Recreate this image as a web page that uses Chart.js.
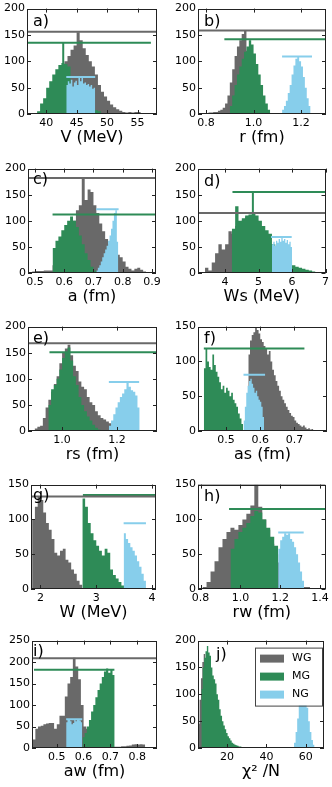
<!DOCTYPE html>
<html>
<head>
<meta charset="utf-8">
<script src="https://cdn.jsdelivr.net/npm/chart.js@4"></script>
<style>
  body { margin: 0; background: #fff; }
  #wrap { position: relative; width: 332px; height: 787px; overflow: hidden; }
  canvas { position: absolute; }
</style>
</head>
<body>
<div id="wrap"></div>
<script>
const FONT = '"DejaVu Sans", sans-serif';
const COLORS = { WG: '#696969', MG: '#2e8b57', NG: '#87ceeb' };
const KEYS = ['WG', 'MG', 'NG'];

// y tick sets
const Y200 = [0, 50, 100, 150, 200];
const Y150 = [0, 50, 100, 150];
const Y250 = [0, 50, 100, 150, 200, 250];

// histogram counts; bins = [first edge, bin width]
// a) V (MeV)
const aWG = [2,5,10,20,35,50,65,80,92,100,110,122,130,155,140,125,112,100,90,75,55,42,33,25,18,13,9,6,4,3,4,3,4,4,2];
const aWGbin = [38.5, 0.5];
const aMG = [5,20,30,50,62,75,85,93,97,95,90,45,40,35,30,25,20,15,10,7,5];
const aMGbin = [38.5, 0.5];
const aNG = [55,62,58,65,52,60,63,55,70,62,70,58,60,55,57,52,55,48,50];
const aNGbin = [43.3, 0.25];
const aLines = [['WG', null, 156, null, 156], ['MG', null, 135, 57.2, 135], ['MG', 42.8, 135, 42.8, 96], ['NG', 43.3, 70, 48.05, 70]];

// b) r (fm)
const bWG = [2,3,3,4,4,6,8,12,20,35,60,85,110,128,140,152,158,120,90,60,35,15,5];
const bWGbin = [0.80, 0.01];
const bMG = [15,35,55,75,90,105,118,128,140,132,115,95,75,55,35,20,8];
const bMGbin = [0.90, 0.01];
const bNG = [8,15,25,40,55,75,92,105,110,100,90,70,50,30,15];
const bNGbin = [1.12, 0.008];
const bLines = [['WG', null, 158.5, null, 158.5], ['MG', 0.877, 142, null, 142], ['NG', 1.12, 109, 1.246, 109]];

// c) a (fm)
const cWG = [3,4,4,4,5,5,5,15,25,35,45,55,65,80,100,120,130,180,140,160,155,130,115,95,80,65,55,45,40,35,30,22,12,8,5,8,10,6,3];
const cWGbin = [0.49, 0.01];
const cMG = [48,62,70,82,92,100,108,100,88,72,55,38,25,12,5];
const cMGbin = [0.56, 0.01];
const cNG = [5,10,15,22,30,38,45,52,62,72,85,100,115,120,60];
const cNGbin = [0.71, 0.005];
const cLines = [['WG', null, 182, null, 182], ['MG', 0.56, 112, null, 112], ['NG', 0.709, 122, 0.786, 122]];

// d) Ws (MeV)
const dWG = [10,5,20,38,55,45,55,80,75,90,98,102,108,110,114,100,85,70,55,40,30,20,12,8,5];
const dWGbin = [3.4, 0.1];
const dMG = [85,128,100,105,110,112,115,110,100,90,82,75,55,50,45,40,35,25,15,12,10,8,6,5,3];
const dMGbin = [4.2, 0.1];
const dNG = [55,60,52,62,58,65,60,68,62,65,58,63,55,60,50];
const dNGbin = [5.4, 0.04];
const dLines = [['WG', null, 115, null, 115], ['MG', 4.22, 155, null, 155], ['MG', 4.83, 155, 4.83, 115], ['NG', 5.37, 69, 5.99, 69]];

// e) rs (fm)
const eWG = [5,8,10,25,45,60,75,90,105,130,150,158,165,145,125,115,95,85,80,65,55,50,38,30,25,22,18,15,10];
const eWGbin = [0.90, 0.01];
const eMG = [50,80,88,100,118,140,150,160,135,105,88,65,50,38,28,20,12,6,3];
const eMGbin = [0.95, 0.01];
const eNG = [10,20,32,45,55,65,72,80,92,85,78,75,68,45];
const eNGbin = [1.17, 0.008];
const eLines = [['WG', null, 168, null, 168], ['MG', 0.954, 151, null, 151], ['NG', 1.17, 94, 1.28, 94]];

// f) as (fm)
const fWG = [110,130,138,142,148,145,140,132,128,122,118,110,115,100,88,80,72,65,58,50,45,40,35,30,26,22,20,15,12,10,8,6,8,5,3,4,2,3];
const fWGbin = [0.565, 0.005];
const fMG = [90,118,100,92,88,110,95,85,78,70,60,65,55,62,58,50,55,45,40,35,25,18,10];
const fMGbin = [0.435, 0.005];
const fNG = [15,35,55,65,72,75,68,62,55,58,50,45,42,35,20];
const fNGbin = [0.551, 0.004];
const fLines = [['MG', 0.435, 118.6, 0.729, 118.6], ['NG', 0.551, 80.7, 0.614, 80.7]];

// g) W (MeV)
const gWG = [100,118,133,128,110,95,85,72,52,48,55,58,42,38,28,22,12,6];
const gWGbin = [1.85, 0.05];
const gMG = [130,118,95,80,70,62,55,48,58,52,28,20,15,10,5];
const gMGbin = [2.75, 0.05];
const gNG = [80,72,66,60,55,48,40,32,22,12];
const gNGbin = [3.49, 0.04];
const gLines = [['WG', null, 133, null, 133], ['MG', 2.76, 135, null, 135], ['NG', 3.49, 94.4, 3.89, 94.4]];

// h) rw (fm)
const hWG = [3,10,25,40,60,72,82,88,85,92,100,108,120,150,118,100,85,65,50,38,28,18,12,8,5,3,3];
const hWGbin = [0.81, 0.02];
const hMG = [58,72,82,88,95,105,112,110,100,88,75,62];
const hMGbin = [0.95, 0.02];
const hNG = [58,70,75,80,78,80,72,68,60,50,38,25,12];
const hNGbin = [1.19, 0.01];
const hLines = [['WG', null, 149.5, null, 149.5], ['MG', 0.943, 115, null, 115], ['NG', 1.19, 81, 1.318, 81]];

// i) aw (fm)
const iWG = [20,45,50,52,55,57,58,58,45,55,75,75,120,150,165,210,190,160,100,50,45,35,25,20,15,12,10,8,6,5,3,3,3,4,4,5,6,8,9,8,9,8];
const iWGbin = [0.41, 0.01];
const iMG = [25,35,50,65,85,100,118,135,150,165,178,185,175,182,170];
const iMGbin = [0.596, 0.008];
const iNG = [60,66,65,62,55,58,66,62,65,66,64,60];
const iNGbin = [0.535, 0.005];
const iLines = [['WG', null, 209, null, 209], ['MG', 0.415, 182, 0.715, 182], ['NG', 0.535, 67, 0.595, 67]];

// j) chi^2/N
const jWG = [45,90,130,160,175,165,150,120,90,65,45,30,20,12,8,5,3];
const jWGbin = [5.4, 0.7];
const jMG = [110,150,168,180,190,178,172,150,135,128,120,100,90,72,60,50,42,35,28,22,18,14,10,8,6,5,4,3,3,2,2];
const jMGbin = [7.0, 0.7];
const jNG = [10,30,55,90,110,120,118,95,75,50,30,15,6];
const jNGbin = [54.0, 0.8];
const jLegend = ['WG', 'MG', 'NG'];

const PANELS = [
  { label: 'a)', title: 'V (MeV)', rect: [27, 8, 157, 114], x: [36.85, 58.2], xt: ['40','45','50','55'], y: Y200,
    series: [[aWG, aWGbin], [aMG, aMGbin], [aNG, aNGbin]], lines: aLines, dx: 6, dy: 13 },
  { label: 'b)', title: 'r (fm)', rect: [198, 8, 326, 114], x: [0.766, 1.305], xt: ['0.8','1.0','1.2'], y: Y200,
    series: [[bWG, bWGbin], [bMG, bMGbin], [bNG, bNGbin]], lines: bLines, dx: 6, dy: 13 },
  { label: 'c)', title: 'a (fm)', rect: [28, 168, 156, 273], x: [0.476, 0.914], xt: ['0.5','0.6','0.7','0.8','0.9'], y: Y200,
    series: [[cWG, cWGbin], [cMG, cMGbin], [cNG, cNGbin]], lines: cLines, dx: 5, dy: 11 },
  { label: 'd)', title: 'Ws (MeV)', rect: [198, 168, 327, 273], x: [3.19, 7.0], xt: ['4','5','6','7'], y: Y200,
    series: [[dWG, dWGbin], [dMG, dMGbin], [dNG, dNGbin]], lines: dLines, dx: 6, dy: 13 },
  { label: 'e)', title: 'rs (fm)', rect: [28, 326, 157, 431], x: [0.876, 1.345], xt: ['1.0','1.2'], y: Y200,
    series: [[eWG, eWGbin], [eMG, eMGbin], [eNG, eNGbin]], lines: eLines, dx: 5, dy: 12 },
  { label: 'f)', title: 'as (fm)', rect: [198, 326, 327, 431], x: [0.418, 0.795], xt: ['0.5','0.6','0.7'], y: Y150,
    series: [[fWG, fWGbin], [fMG, fMGbin], [fNG, fNGbin]], lines: fLines, dx: 6, dy: 12 },
  { label: 'g)', title: 'W (MeV)', rect: [31, 484, 156, 589], x: [1.83, 4.07], xt: ['2','3','4'], y: Y150,
    series: [[gWG, gWGbin], [gMG, gMGbin], [gNG, gNGbin]], lines: gLines, dx: 2, dy: 11 },
  { label: 'h)', title: 'rw (fm)', rect: [198, 484, 326, 589], x: [0.787, 1.428], xt: ['0.8','1.0','1.2','1.4'], y: Y150,
    series: [[hWG, hWGbin], [hMG, hMGbin], [hNG, hNGbin]], lines: hLines, dx: 6, dy: 12 },
  { label: 'i)', title: 'aw (fm)', rect: [32, 640, 157, 748], x: [0.4075, 0.874], xt: ['0.5','0.6','0.7','0.8'], y: Y250,
    series: [[iWG, iWGbin], [iMG, iMGbin], [iNG, iNGbin]], lines: iLines, dx: 1, dy: 11 },
  { label: 'j)', title: 'χ² /N', rect: [198, 640, 324, 748], x: [5.3, 69.2], xt: ['20','40','60'], y: Y200,
    series: [[jWG, jWGbin], [jMG, jMGbin], [jNG, jNGbin]], lines: [], dx: 18, dy: 14, legend: jLegend }
];

// outline of a histogram: two corners per bin, closed down to zero
function histPoints(counts, bin) {
  const [x0, w] = bin;
  const pts = [{ x: x0, y: 0 }];
  counts.forEach((c, i) => {
    pts.push({ x: x0 + i * w, y: c });
    pts.push({ x: x0 + (i + 1) * w, y: c });
  });
  pts.push({ x: x0 + counts.length * w, y: 0 });
  return pts;
}

// frame, inward ticks, panel letter and the legend box
const framePlugin = {
  id: 'frame',
  afterDatasetsDraw(chart, args, o) {
    const { ctx, chartArea: a, scales } = chart;
    ctx.save();
    ctx.strokeStyle = '#222';
    ctx.lineWidth = 1;
    const seg = (x1, y1, x2, y2) => { ctx.beginPath(); ctx.moveTo(x1, y1); ctx.lineTo(x2, y2); ctx.stroke(); };
    scales.x.ticks.forEach(t => {
      const px = Math.round(scales.x.getPixelForValue(t.value)) + 0.5;
      seg(px, a.bottom, px, a.bottom - 4);
      seg(px, a.top, px, a.top + 4);
    });
    scales.y.ticks.forEach(t => {
      const py = Math.round(scales.y.getPixelForValue(t.value)) + 0.5;
      seg(a.left, py, a.left + 4, py);
      seg(a.right, py, a.right - 4, py);
    });
    ctx.strokeRect(Math.round(a.left) + 0.5, Math.round(a.top) + 0.5, Math.round(a.width) - 1, Math.round(a.height) - 1);

    ctx.fillStyle = '#000';
    ctx.font = '16px ' + FONT;
    ctx.textBaseline = 'middle';
    ctx.textAlign = 'left';
    ctx.fillText(o.label, a.left + o.dx, a.top + o.dy);

    if (o.legend) {
      const lx = a.left + 57, ly = a.top + 7, lw = 67, lh = 58;
      ctx.fillStyle = '#fff';
      ctx.fillRect(lx, ly, lw, lh);
      ctx.strokeStyle = '#444';
      ctx.strokeRect(lx + 0.5, ly + 0.5, lw, lh);
      o.legend.forEach((name, i) => {
        const cy = ly + 11 + i * 18;
        ctx.fillStyle = COLORS[name];
        ctx.fillRect(lx + 5, cy - 4, 24, 8);
        ctx.fillStyle = '#000';
        ctx.font = '11px ' + FONT;
        ctx.fillText(name, lx + 37, cy);
      });
    }
    ctx.restore();
  }
};

const wrap = document.getElementById('wrap');

PANELS.forEach(p => {
  const [L, T, R, B] = p.rect;
  const col = L < 166 ? 0 : 166;
  const cv = document.createElement('canvas');
  cv.width = 166;
  cv.height = (B - T) + 8 + 34;
  cv.style.left = col + 'px';
  cv.style.top = (T - 8) + 'px';
  wrap.appendChild(cv);

  const datasets = [];
  p.lines.forEach(l => datasets.push({
    data: [{ x: l[1] ?? p.x[0], y: l[2] }, { x: l[3] ?? p.x[1], y: l[4] }],
    borderColor: COLORS[l[0]], borderWidth: 2, pointRadius: 0, fill: false, order: 0
  }));
  p.series.forEach(([counts, bin], k) => datasets.push({
    data: histPoints(counts, bin),
    fill: 'origin', tension: 0,
    backgroundColor: COLORS[KEYS[k]],
    borderColor: 'rgba(0,0,0,0)', borderWidth: 0,
    pointRadius: 0, order: 3 - k
  }));

  new Chart(cv, {
    type: 'line',
    data: { datasets },
    options: {
      responsive: false,
      animation: false,
      events: [],
      layout: { autoPadding: false, padding: { top: 8, right: col + 166 - R, left: 0, bottom: 0 } },
      plugins: {
        legend: { display: false },
        tooltip: { enabled: false },
        frame: { label: p.label, dx: p.dx, dy: p.dy, legend: p.legend }
      },
      scales: {
        x: {
          type: 'linear', min: p.x[0], max: p.x[1],
          grid: { display: false, drawTicks: false },
          border: { display: false },
          afterBuildTicks: s => { s.ticks = p.xt.map(v => ({ value: parseFloat(v) })); },
          afterFit: s => { s.height = 34; },
          ticks: {
            autoSkip: false, maxRotation: 0, padding: 3, color: '#000',
            font: { size: 11, family: FONT },
            callback: (v, i) => p.xt[i]
          },
          title: { display: true, text: p.title, color: '#000', font: { size: 16, family: FONT }, padding: { top: 0, bottom: 1 } }
        },
        y: {
          min: p.y[0], max: p.y[p.y.length - 1],
          grid: { display: false, drawTicks: false },
          border: { display: false },
          afterBuildTicks: s => { s.ticks = p.y.map(v => ({ value: v })); },
          afterFit: s => { s.width = L - col; },
          ticks: { padding: 2, color: '#000', font: { size: 11, family: FONT } }
        }
      }
    },
    plugins: [framePlugin]
  });
});
</script>
</body>
</html>
